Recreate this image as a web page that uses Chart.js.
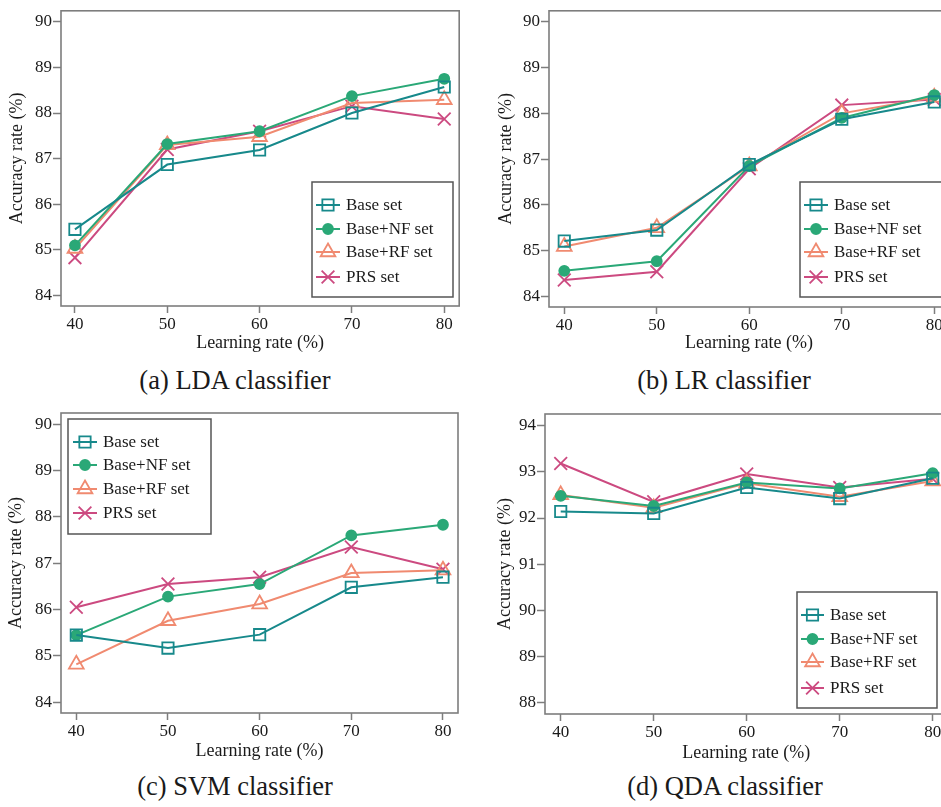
<!DOCTYPE html>
<html>
<head>
<meta charset="utf-8">
<script src="https://cdn.jsdelivr.net/npm/chart.js"></script>
<style>
  body { margin: 0; background: #fff; }
  #page { position: relative; width: 941px; height: 807px; overflow: hidden; background: #fff; }
  canvas { position: absolute; }
  .cap { position: absolute; width: 300px; text-align: center; font-family: "Liberation Serif", "Times New Roman", serif;
         font-size: 26.5px; color: #1a1a1a; line-height: 30px; }
</style>
</head>
<body>
<div id="page">
  <canvas id="chartA" width="470" height="360" style="left:0px;top:0px"></canvas>
  <canvas id="chartB" width="490" height="360" style="left:470px;top:0px"></canvas>
  <canvas id="chartC" width="470" height="370" style="left:0px;top:400px"></canvas>
  <canvas id="chartD" width="490" height="370" style="left:470px;top:400px"></canvas>
  <div class="cap" style="left:85px;top:365px">(a) LDA classifier</div>
  <div class="cap" style="left:574px;top:365px">(b) LR classifier</div>
  <div class="cap" style="left:85px;top:771px">(c) SVM classifier</div>
  <div class="cap" style="left:575px;top:771px">(d) QDA classifier</div>
</div>
<script>
// values
const learningRates = [40, 50, 60, 70, 80]
const seriesNames = ['Base set', 'Base+NF set', 'Base+RF set', 'PRS set']

const ldaBase = [85.45, 86.87, 87.19, 88.0, 88.57]
const ldaNF   = [85.1, 87.32, 87.6, 88.37, 88.75]
const ldaRF   = [85.03, 87.3, 87.48, 88.22, 88.29]
const ldaPRS  = [84.83, 87.2, 87.6, 88.15, 87.87]

const lrBase = [85.21, 85.45, 86.88, 87.87, 88.25]
const lrNF   = [84.56, 84.77, 86.85, 87.9, 88.4]
const lrRF   = [85.09, 85.5, 86.85, 88.0, 88.35]
const lrPRS  = [84.36, 84.54, 86.79, 88.18, 88.3]

const svmBase = [85.45, 85.17, 85.46, 86.48, 86.7]
const svmNF   = [85.45, 86.28, 86.55, 87.6, 87.83]
const svmRF   = [84.82, 85.76, 86.12, 86.79, 86.85]
const svmPRS  = [86.05, 86.55, 86.7, 87.35, 86.87]

const qdaBase = [92.14, 92.1, 92.66, 92.42, 92.86]
const qdaNF   = [92.48, 92.26, 92.77, 92.64, 92.97]
const qdaRF   = [92.5, 92.22, 92.75, 92.46, 92.8]
const qdaPRS  = [93.18, 92.35, 92.95, 92.66, 92.85]

const xTicks = [40, 50, 60, 70, 80]
const yTicksLow = [84, 85, 86, 87, 88, 89, 90]
const yTicksQda = [88, 89, 90, 91, 92, 93, 94]

const colors = ['#17898b', '#2aa877', '#f08a70', '#cc4a80']
const markers = ['rect', 'circle', 'triangle', 'crossRot']
const radii = [8, 5, 8.5, 9]

const serif = '"Liberation Serif", "Times New Roman", serif'
Chart.defaults.font.family = serif
Chart.defaults.color = '#1a1a1a'

// full grey frame round the plot area
const frame = {
  id: 'frame',
  afterDraw(chart) {
    const a = chart.chartArea, ctx = chart.ctx
    ctx.save()
    ctx.strokeStyle = '#7d7d7d'
    ctx.lineWidth = 1.6
    ctx.strokeRect(a.left, a.top, a.right - a.left, a.bottom - a.top)
    ctx.restore()
  }
}

// boxed legend drawn inside the plot
const boxLegend = {
  id: 'boxLegend',
  afterDraw(chart, args, o) {
    const ctx = chart.ctx
    ctx.save()
    ctx.fillStyle = '#fff'
    ctx.fillRect(o.left, o.top, o.width, o.height)
    ctx.strokeStyle = '#555'
    ctx.lineWidth = 1.5
    ctx.strokeRect(o.left, o.top, o.width, o.height)
    chart.data.datasets.forEach((ds, i) => {
      const y = o.rows[i]
      ctx.strokeStyle = ds.borderColor
      ctx.lineWidth = 2
      ctx.beginPath()
      ctx.moveTo(o.lineX0, y)
      ctx.lineTo(o.lineX1, y)
      ctx.stroke()
      ctx.fillStyle = ds.pointBackgroundColor
      ctx.lineWidth = ds.pointBorderWidth
      Chart.helpers.drawPoint(ctx, {
        pointStyle: ds.pointStyle, radius: ds.pointRadius,
        borderWidth: ds.pointBorderWidth, rotation: 0
      }, (o.lineX0 + o.lineX1) / 2, y)
      ctx.fillStyle = '#1a1a1a'
      ctx.font = '17px ' + serif
      ctx.textBaseline = 'middle'
      ctx.textAlign = 'left'
      ctx.fillText(ds.label, o.textX, y + 1)
    })
    ctx.restore()
  }
}

function makeChart(id, values, p) {
  const datasets = values.map((vals, i) => ({
    label: seriesNames[i],
    data: vals.map((v, j) => ({ x: learningRates[j], y: v })),
    borderColor: colors[i],
    borderWidth: 2,
    pointStyle: markers[i],
    pointRadius: radii[i],
    pointBorderColor: colors[i],
    pointBorderWidth: 1.8,
    pointBackgroundColor: i == 1 ? colors[i] : 'rgba(0,0,0,0)',
    tension: 0
  }))
  new Chart(document.getElementById(id), {
    type: 'line',
    data: { datasets: datasets },
    plugins: [frame, boxLegend],
    options: {
      responsive: false,
      animation: false,
      layout: { padding: p.pad },
      scales: {
        x: {
          type: 'linear',
          min: p.xMin, max: p.xMax,
          afterBuildTicks: s => { s.ticks = xTicks.map(v => ({ value: v })) },
          afterFit: s => { s.height = p.xH; s.paddingLeft = 0; s.paddingRight = 0 },
          grid: { drawOnChartArea: false, color: '#7d7d7d', tickLength: 7, tickWidth: 1.5 },
          border: { display: false },
          ticks: { font: { size: 17 }, padding: 1, maxRotation: 0 },
          title: { display: true, text: 'Learning rate (%)', font: { size: 18 }, padding: { top: 0, bottom: p.xtPad } }
        },
        y: {
          min: p.yMin, max: p.yMax,
          afterBuildTicks: s => { s.ticks = p.yTicks.map(v => ({ value: v })) },
          afterFit: s => { s.width = p.yW; s.paddingTop = 0; s.paddingBottom = 0 },
          grid: { drawOnChartArea: false, color: '#7d7d7d', tickLength: 8, tickWidth: 1.5 },
          border: { display: false },
          ticks: { font: { size: 17 }, padding: 1 },
          title: { display: true, text: 'Accuracy rate (%)', font: { size: 18 }, padding: { top: p.ytPad, bottom: 0 } }
        }
      },
      plugins: {
        legend: { display: false },
        tooltip: { enabled: false },
        boxLegend: p.legend
      }
    }
  })
}

makeChart('chartA', [ldaBase, ldaNF, ldaRF, ldaPRS], {
  pad: { top: 5, right: 10, left: 0, bottom: 0 }, yW: 61, xH: 54,
  xMin: 38.49, xMax: 81.62, yMin: 83.77, yMax: 90.24, yTicks: yTicksLow, ytPad: 6, xtPad: 6,
  legend: { left: 312, top: 182, width: 141, height: 115, rows: [205, 229, 252, 277], lineX0: 316, lineX1: 340, textX: 346 }
})
makeChart('chartB', [lrBase, lrNF, lrRF, lrPRS], {
  pad: { top: 4, right: 11, left: 0, bottom: 0 }, yW: 79, xH: 53,
  xMin: 38.35, xMax: 81.59, yMin: 83.77, yMax: 90.24, yTicks: yTicksLow, ytPad: 25, xtPad: 6,
  legend: { left: 330, top: 182, width: 160, height: 115, rows: [205, 229, 252, 277], lineX0: 334, lineX1: 358, textX: 364 }
})
makeChart('chartC', [svmBase, svmNF, svmRF, svmPRS], {
  pad: { top: 13, right: 12, left: 0, bottom: 0 }, yW: 61, xH: 57,
  xMin: 38.33, xMax: 81.64, yMin: 83.77, yMax: 90.24, yTicks: yTicksLow, ytPad: 5.7, xtPad: 7.5,
  legend: { left: 68, top: 19, width: 143, height: 115, rows: [42, 65, 89, 113], lineX0: 73, lineX1: 97, textX: 103 }
})
makeChart('chartD', [qdaBase, qdaNF, qdaRF, qdaPRS], {
  pad: { top: 14, right: 12.4, left: 0, bottom: 0 }, yW: 75, xH: 56,
  xMin: 38.31, xMax: 81.6, yMin: 87.76, yMax: 94.25, yTicks: yTicksQda, ytPad: 24.7, xtPad: 6.2,
  legend: { left: 327, top: 192, width: 140, height: 116, rows: [215, 239, 262, 288], lineX0: 331, lineX1: 354, textX: 360 }
})
</script>
</body>
</html>
